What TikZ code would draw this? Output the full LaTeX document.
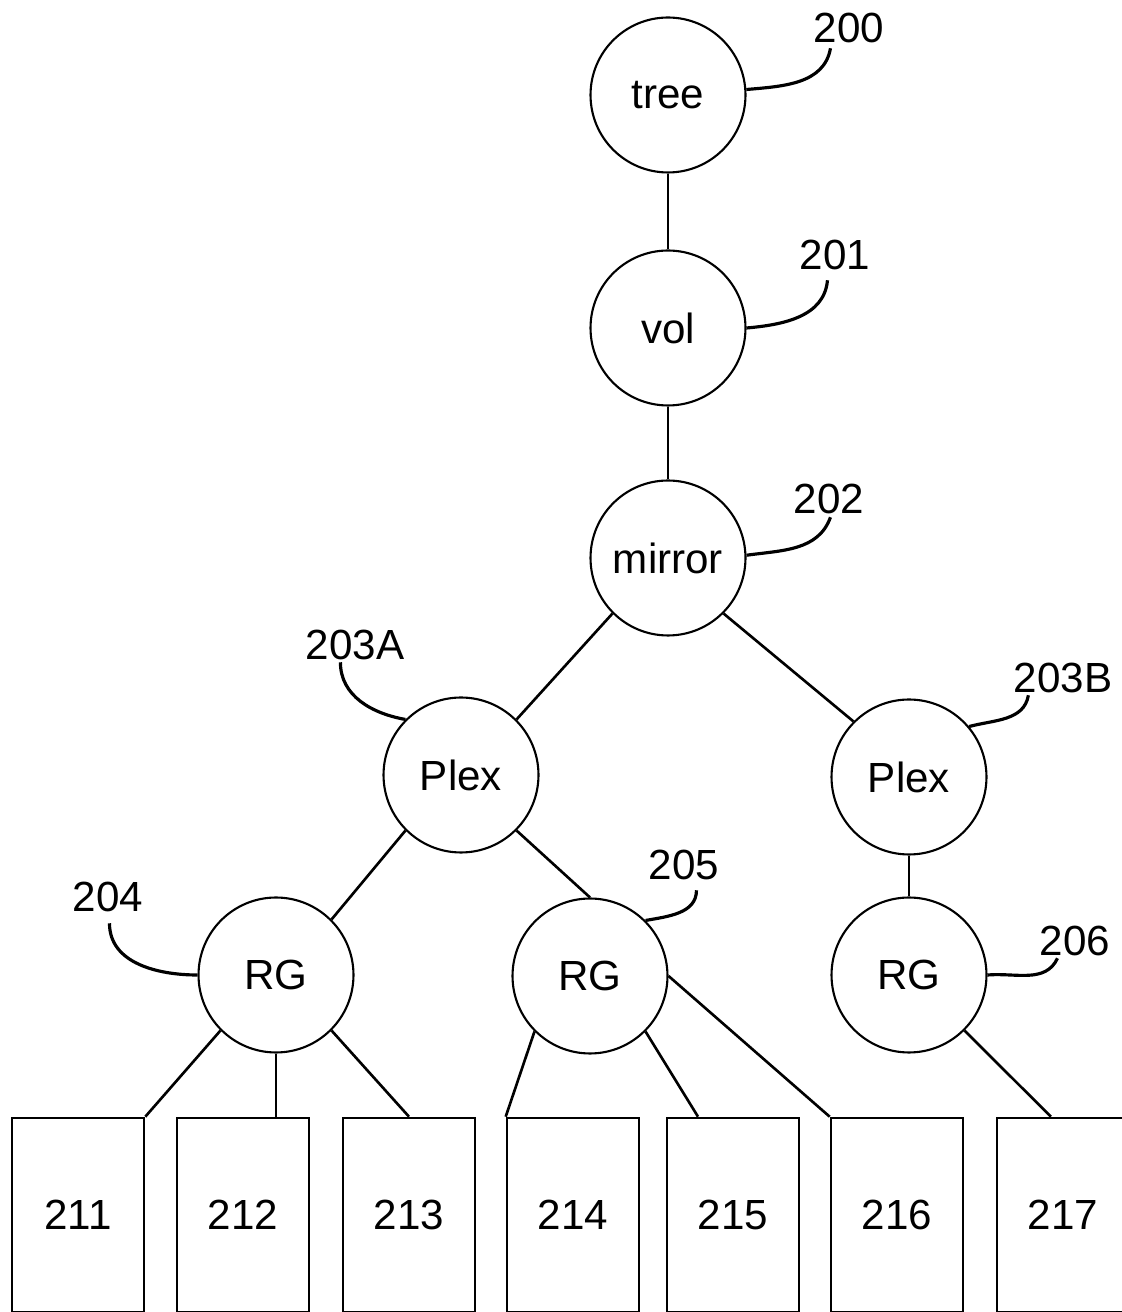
\documentclass[tikz,border=0pt]{standalone}
\usepackage{fontspec}
\setmainfont{Liberation Sans}
\usetikzlibrary{calc}

\begin{document}
\begin{tikzpicture}[x=0.02cm,y=0.02cm,
        every node/.style={font=\fontsize{24}{28}\selectfont},
        obj/.style={draw,circle,line width=1.2pt,minimum size=3.1cm,inner sep=0pt},
        disk/.style={draw,line width=1.5pt,minimum width=2.64cm,minimum height=3.88cm,inner sep=0pt},
        num/.style={inner sep=0pt},
        link/.style={line width=1.5pt},
        lead/.style={line width=1.8pt}]
        \useasboundingbox (0,0) rectangle (1122,1312);
        \clip (0,0) rectangle (1122,1312);

        \node[obj] (tree) at (668,1217) {tree};
        \node[obj] (vol) at (668,984) {vol};
        \node[obj] (mirror) at (668,754) {mirror};
        \node[obj] (plexA) at (461,537) {Plex};
        \node[obj] (plexB) at (909,535) {Plex};
        \node[obj] (rgA) at (276,337) {RG};
        \node[obj] (rgB) at (590,336) {RG};
        \node[obj] (rgC) at (909,337) {RG};

        \node[disk] (b211) at (78,97) {211};
        \node[disk] (b212) at (243,97) {212};
        \node[disk] (b213) at (409,97) {213};
        \node[disk] (b214) at (573,97) {214};
        \node[disk] (b215) at (733,97) {215};
        \node[disk] (b216) at (897,97) {216};
        \node[disk] (b217) at (1063,97) {217};

        \node[num] (l200) at (849,1284) {200};
        \node[num] (l201) at (835,1057) {201};
        \node[num] (l202) at (829,813) {202};
        \node[num] (l203A) at (355,667) {203A};
        \node[num] (l203B) at (1063,634) {203B};
        \node[num] (l204) at (108,415) {204};
        \node[num] (l205) at (684,447) {205};
        \node[num] (l206) at (1075,371) {206};

        \draw[link] (tree) -- (vol);
        \draw[link] (vol) -- (mirror);
        \draw[link] (mirror.-135) -- (plexA.45);
        \draw[link] (mirror.-45) -- (plexB.135);
        \draw[link] (plexA.-135) -- (rgA.45);
        \draw[link] (plexA.-45) -- (rgB.north);
        \draw[link] (plexB) -- (rgC);

        \draw[link] (rgA.-135) -- (b211.north east);
        \draw[link] (rgA.south) -- (rgA.south |- b212.north);
        \draw[link] (rgA.-45) -- (b213.north);
        \draw[link] (rgB.-135) -- (b214.north west);
        \draw[link] (rgB.-45) -- ($(b215.north west)!0.24!(b215.north east)$);
        \draw[link] (rgB.east) -- (b216.north west);
        \draw[link] (rgC.-45) -- ($(b217.north west)!0.41!(b217.north east)$);

        \draw[lead] (tree.4) to[out=5,in=-100] ($(l200.south west)+(17,-5)$);
        \draw[lead] (vol.east) to[out=5,in=-95] ($(l201.south west)+(28,-10)$);
        \draw[lead] (mirror.2) to[out=8,in=-110] ($(l202.south west)+(37,-3)$);
        \draw[lead] ($(l203A.south west)+(35,-2)$) to[out=-90,in=170] (plexA.135);
        \draw[lead] (plexB.40) to[out=15,in=-100] ($(l203B.south west)+(15,-2)$);
        \draw[lead] ($(l204.south west)+(37,-11)$) to[out=-90,in=180] (rgA.west);
        \draw[lead] (rgB.45) to[out=10,in=-90] ($(l205.south west)+(48,-10)$);
        \draw[lead] (rgC.east) to[out=5,in=-115] ($(l206.south west)+(18,-2)$);
\end{tikzpicture}
\end{document}
